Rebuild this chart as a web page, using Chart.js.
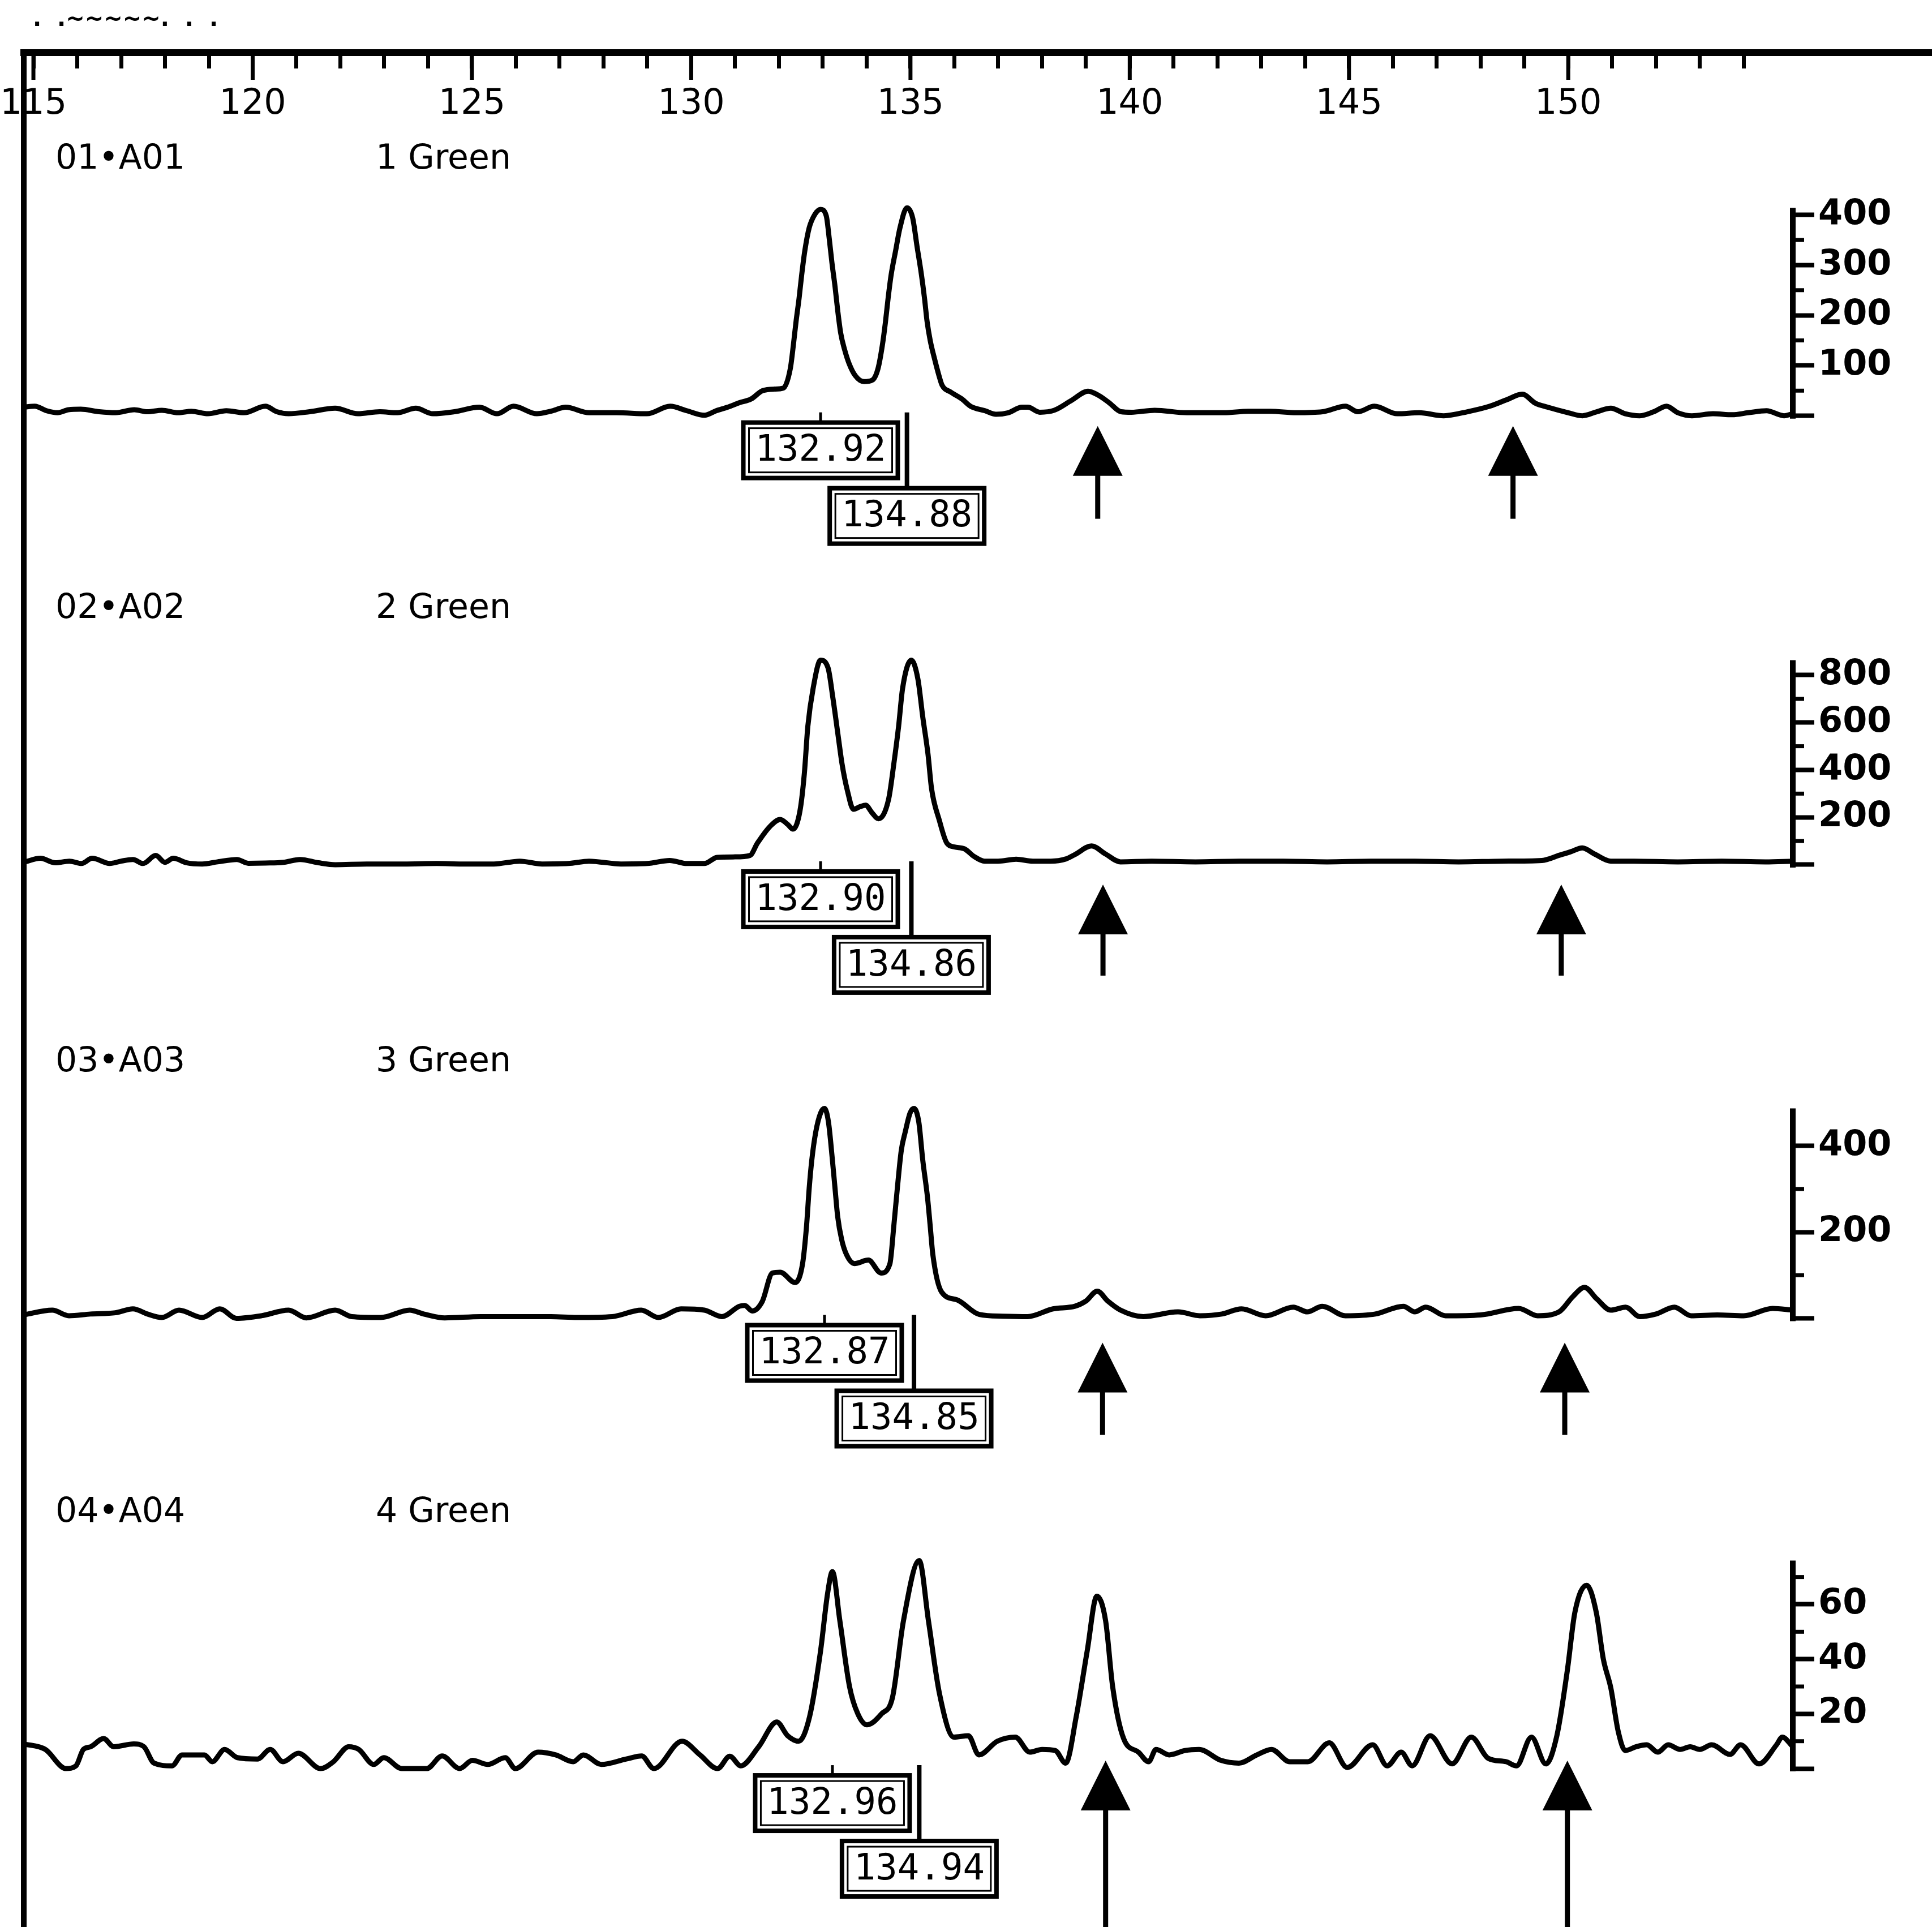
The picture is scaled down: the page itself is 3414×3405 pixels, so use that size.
<!DOCTYPE html>
<html>
<head>
<meta charset="utf-8">
<title>Fragment sizing, wells A01-A04</title>
<script src="https://cdn.jsdelivr.net/npm/chart.js@4.4.1/dist/chart.umd.min.js"></script>
<style>
  html, body { margin: 0; padding: 0; background: #fff; }
  canvas { display: block; }
</style>
</head>
<body>
<canvas id="trace" width="3414" height="3405"></canvas>
<script>
// fragment size (bp) and signal (RFU)
const size1 = [114.78,115.03,115.30,115.55,115.80,116.08,116.50,116.87,117.30,117.60,117.93,118.30,118.60,118.98,119.40,119.80,120.29,120.55,120.82,121.30,121.88,122.40,122.90,123.30,123.72,124.11,124.60,125.17,125.57,125.95,126.48,126.80,127.14,127.67,128.30,128.99,129.52,129.90,130.30,130.57,130.83,131.10,131.36,131.63,131.90,132.10,132.26,132.33,132.39,132.46,132.52,132.59,132.69,132.82,132.95,133.08,133.15,133.21,133.28,133.34,133.41,133.50,133.60,133.74,133.94,134.13,134.26,134.36,134.43,134.49,134.56,134.66,134.76,134.92,135.05,135.15,135.25,135.32,135.38,135.45,135.55,135.65,135.72,135.92,136.18,136.37,136.70,136.95,137.23,137.54,137.68,137.95,138.28,138.68,139.05,139.30,139.53,139.80,140.04,140.57,141.30,142.15,142.70,143.20,143.80,144.40,144.92,145.20,145.58,146.10,146.60,147.16,147.70,148.21,148.60,148.95,149.25,149.53,150.00,150.32,150.65,150.97,151.30,151.63,151.95,152.24,152.50,152.82,153.30,153.74,154.10,154.52,154.92,155.12];
const rfu1 = [17,19,10,6,12,13,8,6,12,8,11,6,9,4,10,6,19,8,4,8,15,4,8,6,15,4,8,17,4,19,4,9,17,6,6,4,19,10,1,10,17,26,33,50,53,55,94,141,187,234,281,328,374,401,411,398,351,304,257,210,164,131,104,80,68,71,94,141,187,234,281,328,374,414,394,337,281,234,187,150,113,80,61,47,33,19,10,3,6,17,17,7,11,31,49,40,26,8,7,11,6,6,9,9,6,8,19,8,19,4,6,0,8,19,32,43,25,17,6,0,8,15,4,0,8,19,6,0,4,2,6,10,0,4];

const size2 = [114.78,115.16,115.50,115.82,116.10,116.34,116.74,117.00,117.27,117.50,117.79,118.00,118.19,118.50,118.85,119.20,119.64,119.90,120.29,120.70,121.08,121.50,121.88,122.60,123.45,124.20,124.77,125.50,126.09,126.60,127.20,127.67,128.40,129.00,129.51,129.90,130.30,130.59,131.00,131.34,131.51,131.80,132.03,132.20,132.32,132.48,132.58,132.66,132.78,132.95,133.12,133.23,133.35,133.44,133.56,133.70,133.85,133.98,134.12,134.27,134.50,134.62,134.73,134.82,135.02,135.17,135.28,135.40,135.48,135.66,135.83,136.00,136.23,136.45,136.69,137.00,137.41,137.79,138.20,138.54,138.75,139.13,139.45,139.79,140.50,141.50,142.50,143.50,144.50,145.50,146.50,147.50,148.50,149.40,149.80,150.06,150.32,150.60,150.97,151.50,152.50,153.50,154.50,155.12];
const rfu2 = [10,27,8,15,5,27,5,15,22,5,39,10,27,8,3,12,22,6,7,10,22,8,0,3,3,5,3,3,15,3,5,15,3,5,18,5,5,31,33,39,91,162,191,170,150,227,385,585,744,863,831,705,545,425,314,234,245,251,220,194,275,425,585,744,863,783,624,466,322,186,91,75,67,35,15,15,23,15,15,24,43,79,45,12,15,12,15,15,12,15,15,12,15,18,40,55,71,45,15,15,12,15,12,15];

const size3 = [114.78,115.43,115.81,116.30,116.87,117.27,117.60,117.93,118.32,118.85,119.25,119.63,120.20,120.82,121.22,121.88,122.26,122.92,123.58,123.90,124.38,125.20,126.08,126.80,127.40,128.20,128.86,129.25,129.77,130.30,130.70,131.10,131.22,131.39,131.62,131.85,132.03,132.37,132.54,132.63,132.69,132.75,132.84,132.95,133.04,133.13,133.22,133.28,133.34,133.43,133.54,133.72,134.04,134.33,134.53,134.62,134.70,134.79,134.88,134.99,135.08,135.19,135.28,135.39,135.45,135.51,135.71,136.06,136.57,137.10,137.67,138.25,138.75,139.00,139.26,139.50,139.79,140.31,141.10,141.60,142.10,142.55,143.10,143.73,144.05,144.39,144.92,145.60,146.24,146.50,146.75,147.20,148.00,148.87,149.30,149.79,150.10,150.37,150.65,150.97,151.31,151.63,152.00,152.42,152.80,153.40,154.00,154.66,155.12];
const rfu3 = [8,19,6,10,13,22,10,2,19,2,22,0,6,19,1,19,4,2,19,10,1,4,4,4,2,4,19,2,22,19,4,28,30,17,39,105,107,83,127,214,301,367,432,476,487,455,367,301,236,183,148,127,135,105,126,214,301,389,432,476,487,455,367,279,214,148,61,43,9,5,4,22,28,40,63,40,19,4,15,6,10,22,6,26,15,28,6,10,28,15,26,6,8,23,6,15,50,72,45,19,26,4,10,26,6,8,6,23,19];

const size4 = [114.78,115.27,115.74,115.97,116.14,116.31,116.60,116.83,117.29,117.52,117.75,118.16,118.39,118.90,119.08,119.36,119.65,120.11,120.40,120.69,121.04,121.55,121.84,122.19,122.42,122.76,122.99,123.40,123.68,123.97,124.32,124.72,125.01,125.36,125.76,125.99,126.51,126.91,127.31,127.54,127.95,128.52,128.87,129.15,129.79,130.20,130.60,130.88,131.13,131.54,131.95,132.20,132.45,132.70,132.95,133.11,133.22,133.39,133.61,133.80,134.01,134.34,134.59,134.84,135.20,135.41,135.66,135.99,136.32,136.56,136.98,137.39,137.72,138.00,138.30,138.54,138.78,139.03,139.25,139.45,139.61,139.86,140.20,140.43,140.60,140.90,141.26,141.58,142.08,142.49,142.90,143.23,143.65,144.06,144.55,144.96,145.54,145.87,146.19,146.44,146.85,147.35,147.79,148.17,148.58,148.82,149.16,149.49,149.74,149.98,150.15,150.42,150.64,150.80,150.97,151.14,151.30,151.55,151.79,152.04,152.28,152.55,152.78,153.00,153.27,153.69,153.93,154.35,154.75,154.88,155.12];
const rfu4 = [9,7,0,1,7,8,11,8,9,8,2,1,5,5,2.5,7,4,3.5,7,2.5,5.6,0,2.5,8,7,1.5,4,0,0,0,4.6,0,3,1.5,4,0,6,5,2.5,5,1.5,3.5,4.6,0,10,5,0,4.5,1,8,17,12,10,19,43,64,72,54,30,20,16,20,26,54,76,54,27.5,11.5,12,5,10,11.5,6,7,6.6,2,19,43,63,54,30,11,6,2.5,7,5,6.6,7,3,2,5,7,2.5,2.5,9.4,0.4,8.7,1,6,1,12,1.7,11.5,3.8,2.5,1,11.5,1.7,12,36,57,67,57,40,29.5,13.5,6.6,8,8.7,6,8.7,7,8,7,8.7,5.2,8.7,1.7,8.7,11.5,8];

// called sizes (boxed) and marker arrows
const calls1 = [132.92, 134.88];
const calls2 = [132.90, 134.86];
const calls3 = [132.87, 134.85];
const calls4 = [132.96, 134.94];
const arrows1 = [139.27, 148.74];
const arrows2 = [139.39, 149.84];
const arrows3 = [139.38, 149.92];
const arrows4 = [139.45, 149.98];

// axis ticks
const xLabels = [115, 120, 125, 130, 135, 140, 145, 150];
const xRange = [114.78, 155.12];
const xLastTick = 154;
const yTicks1 = [0, 100, 200, 300, 400];
const yTicks2 = [0, 200, 400, 600, 800];
const yTicks3 = [0, 200, 400];
const yTicks4 = [0, 20, 40, 60];

const wells = ['01\u2022A01', '02\u2022A02', '03\u2022A03', '04\u2022A04'];
const dyes = ['1 Green', '2 Green', '3 Green', '4 Green'];

// panel layout: y range so each trace sits in its own band, plus marker offsets in px
const panels = [
  { id: 'y1', sizes: size1, rfu: rfu1, ticks: yTicks1, calls: calls1, arrows: arrows1, min: -299, max: 723, weight: 907, tip: 18, stem: 182 },
  { id: 'y2', sizes: size2, rfu: rfu2, ticks: yTicks2, calls: calls2, arrows: arrows2, min: -626, max: 1261, weight: 790, tip: 35, stem: 196 },
  { id: 'y3', sizes: size3, rfu: rfu3, ticks: yTicks3, calls: calls3, arrows: arrows3, min: -355, max: 708, weight: 810, tip: 43, stem: 206 },
  { id: 'y4', sizes: size4, rfu: rfu4, ticks: yTicks4, calls: calls4, arrows: arrows4, min: -57.9, max: 108.6, weight: 805, tip: -14, stem: 300 }
];

const ink = '#000';

function line(ctx, x1, y1, x2, y2) {
  ctx.beginPath();
  ctx.moveTo(x1, y1);
  ctx.lineTo(x2, y2);
  ctx.stroke();
}

// x of the highest point of a trace near a called size
function peakAt(p, call) {
  let best = call, top = -Infinity;
  p.sizes.forEach((s, k) => {
    if (Math.abs(s - call) < 0.5 && p.rfu[k] > top) { top = p.rfu[k]; best = s; }
  });
  return best;
}

function sizeBox(ctx, cx, top, text) {
  const w = 273, h = 98;
  ctx.fillStyle = '#fff';
  ctx.fillRect(cx - w / 2, top, w, h);
  ctx.lineWidth = 8;
  ctx.strokeRect(cx - w / 2, top, w, h);
  ctx.lineWidth = 3;
  ctx.strokeRect(cx - w / 2 + 10, top + 10, w - 20, h - 20);
  ctx.fillStyle = ink;
  ctx.font = '64px "DejaVu Sans Mono"';
  ctx.textAlign = 'center';
  ctx.textBaseline = 'middle';
  ctx.fillText(text, cx, top + h / 2 + 2);
}

function arrow(ctx, px, tip, end) {
  ctx.beginPath();
  ctx.moveTo(px, tip);
  ctx.lineTo(px - 44, tip + 88);
  ctx.lineTo(px + 44, tip + 88);
  ctx.closePath();
  ctx.fill();
  ctx.lineWidth = 9;
  line(ctx, px, tip + 80, px, end);
}

const decor = {
  id: 'decor',
  afterDraw(chart) {
    const { ctx, chartArea } = chart;
    const x = chart.scales.x;
    ctx.save();
    ctx.strokeStyle = ink;
    ctx.fillStyle = ink;

    // remnant of the cut-off header line
    ctx.font = 'bold 40px "DejaVu Sans"';
    ctx.textAlign = 'left';
    ctx.textBaseline = 'alphabetic';
    ctx.fillText('.  .~~~~~.  .  .', 58, 46);

    // top rule carries on past the right-hand axes
    ctx.lineWidth = 12;
    line(ctx, chartArea.right, x.bottom, chart.width, x.bottom);
    // longer marks every 5 bp
    ctx.lineWidth = 7;
    xLabels.forEach(v => {
      const px = x.getPixelForValue(v);
      line(ctx, px, x.bottom, px, x.bottom + 48);
    });

    panels.forEach((p, i) => {
      const ys = chart.scales[p.id];
      const zero = ys.getPixelForValue(0);
      const peak = Math.max(...p.rfu);

      // signal axis runs from 0 up to the tallest peak
      ctx.lineWidth = 10;
      line(ctx, ys.left, zero + 5, ys.left, ys.getPixelForValue(peak));
      const step = p.ticks[1] - p.ticks[0];
      ctx.lineWidth = 7;
      for (let v = step / 2; v < peak; v += step) {
        const py = ys.getPixelForValue(v);
        line(ctx, ys.left, py, ys.left + 20, py);
      }

      // well and dye
      ctx.font = '60px "DejaVu Sans"';
      ctx.textAlign = 'left';
      ctx.textBaseline = 'middle';
      ctx.fillText(wells[i], chartArea.left + 56, zero - 452);
      ctx.fillText(dyes[i], chartArea.left + 622, zero - 452);

      // size calls
      p.calls.forEach((c, k) => {
        const px = x.getPixelForValue(peakAt(p, c));
        const top = zero + (k === 0 ? 12 : 128);
        ctx.strokeStyle = ink;
        ctx.lineWidth = k === 0 ? 5 : 8;
        line(ctx, px, zero - 6, px, top);
        sizeBox(ctx, px, top, c.toFixed(2));
      });

      // arrows
      ctx.fillStyle = ink;
      p.arrows.forEach(s => {
        arrow(ctx, x.getPixelForValue(s), zero + p.tip, Math.min(zero + p.stem, chart.height));
      });
    });
    ctx.restore();
  }
};

const scales = {
  x: {
    type: 'linear',
    position: 'top',
    min: xRange[0],
    max: xRange[1],
    border: { display: true, width: 12, color: ink },
    grid: { drawOnChartArea: false, drawTicks: true, tickLength: -28, tickWidth: 7, tickColor: ink },
    ticks: {
      stepSize: 1,
      includeBounds: false,
      autoSkip: false,
      maxRotation: 0,
      minRotation: 0,
      mirror: true,
      padding: 55,
      color: ink,
      font: { family: 'DejaVu Sans', size: 62 },
      callback: v => xLabels.includes(v) ? String(v) : ''
    },
    afterBuildTicks: s => { s.ticks = s.ticks.filter(t => t.value <= xLastTick); },
    afterFit: s => { s.height = 93; s.paddingLeft = 0; s.paddingRight = 0; }
  },
  yFrame: {
    type: 'linear',
    position: 'left',
    min: 0,
    max: 1,
    border: { display: true, width: 10, color: ink },
    grid: { display: false, drawTicks: false },
    ticks: { display: false },
    afterFit: s => { s.width = 0; s.paddingTop = 0; s.paddingBottom = 0; }
  }
};

panels.forEach((p, i) => {
  scales[p.id] = {
    type: 'linear',
    position: 'right',
    stack: 'panels',
    stackWeight: p.weight,
    weight: i + 1,
    min: p.min,
    max: p.max,
    border: { display: false },
    grid: { drawOnChartArea: false, drawTicks: true, tickLength: 38, tickWidth: 8, tickColor: ink },
    ticks: {
      autoSkip: false,
      padding: 7,
      color: ink,
      font: { family: 'DejaVu Sans', size: 62, weight: 'bold' },
      callback: v => v === 0 ? '' : String(v)
    },
    afterBuildTicks: s => { s.ticks = p.ticks.map(v => ({ value: v })); },
    afterFit: s => { s.width = 246; s.paddingTop = 0; s.paddingBottom = 0; }
  };
});

new Chart(document.getElementById('trace').getContext('2d'), {
  type: 'line',
  data: {
    datasets: panels.map(p => ({
      label: p.id,
      data: p.sizes.map((s, k) => ({ x: s, y: p.rfu[k] })),
      yAxisID: p.id,
      borderColor: ink,
      borderWidth: 9,
      borderJoinStyle: 'round',
      pointRadius: 0,
      fill: false,
      cubicInterpolationMode: 'monotone'
    }))
  },
  options: {
    responsive: false,
    devicePixelRatio: 1,
    animation: false,
    layout: { padding: { left: 42, top: 0, right: 0, bottom: 0 } },
    plugins: { legend: { display: false }, tooltip: { enabled: false } },
    scales: scales
  },
  plugins: [decor]
});
</script>
</body>
</html>
